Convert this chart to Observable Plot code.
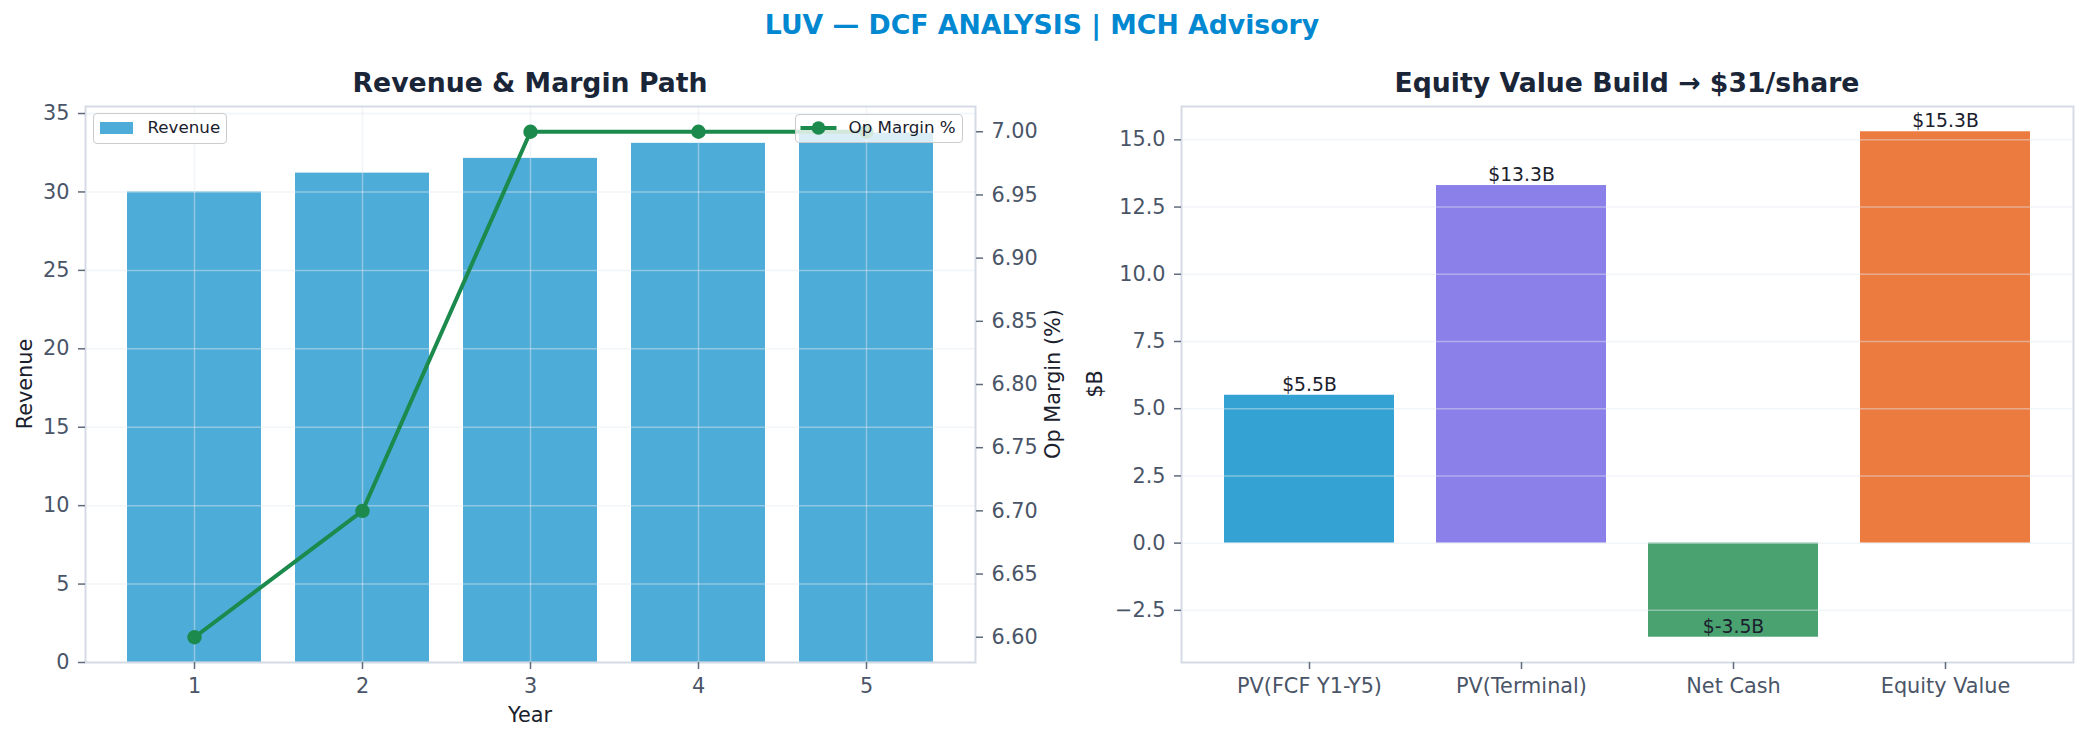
<!DOCTYPE html>
<html>
<head>
<meta charset="utf-8">
<script src="https://cdn.jsdelivr.net/npm/d3@7"></script>
<script src="https://cdn.jsdelivr.net/npm/@observablehq/plot@0.6"></script>
<style>
  html, body { margin: 0; padding: 0; background: #ffffff; }
  #fig { position: relative; width: 2084px; height: 742px; overflow: hidden; background: #ffffff; font-family: "DejaVu Sans", sans-serif; }
  #fig svg { position: absolute; left: 0; top: 0; max-width: none; }
  .txt { position: absolute; white-space: nowrap; line-height: 1; }
  .legend { position: absolute; box-sizing: border-box; background: rgba(255,255,255,0.8); border: 1.5px solid #cccccc; border-radius: 4px; }
</style>
</head>
<body>
<div id="fig"></div>
<script>
// ---------------- data ----------------
const years = [1, 2, 3, 4, 5];
const revenue = [30.0, 31.2, 32.14, 33.10, 33.76];
const opMargin = [6.6, 6.7, 7.0, 7.0, 7.0];
const revenueTicks = [0, 5, 10, 15, 20, 25, 30, 35];
const marginTicks = [6.60, 6.65, 6.70, 6.75, 6.80, 6.85, 6.90, 6.95, 7.00];

const components = ["PV(FCF Y1-Y5)", "PV(Terminal)", "Net Cash", "Equity Value"];
const componentValues = [5.5, 13.3, -3.5, 15.3];
const componentColors = ["#34a3d3", "#8b7fea", "#4aa271", "#ec7b40"];
const valueTicks = [-2.5, 0, 2.5, 5, 7.5, 10, 12.5, 15];

const titleMain = "LUV — DCF ANALYSIS | MCH Advisory";
const titleLeft = "Revenue & Margin Path";
const titleRight = "Equity Value Build → $31/share";

// ---------------- layout ----------------
const W = 2084, H = 742;
const TOP = 106, BOTTOM = 662;
const L1 = 85, R1 = 975, L2 = 1181, R2 = 2073;
const TICK_FONT = 20.8, LABEL_FONT = 20.8, TITLE_FONT = 26.7;
const GRID = {stroke: "#e2e8f0", strokeOpacity: 0.45, strokeWidth: 1.5};
const AXIS = {tickSize: 7, tickPadding: 9, stroke: "#5f6b7a", strokeWidth: 1.5, fill: "#4a5568", label: null};
const FRAME = {stroke: "#d5dbe5", strokeWidth: 2};
const baseStyle = {fontFamily: "DejaVu Sans", fontSize: TICK_FONT + "px", color: "#4a5568", background: "transparent", overflow: "visible"};

const fig = document.getElementById("fig");

const revRows = years.map((y, i) => ({year: y, revenue: revenue[i], margin: opMargin[i]}));
const xYears = {type: "band", domain: years, paddingInner: 0.2, paddingOuter: 0.24, align: 0.5};

// Left panel: bars (revenue, left axis)
const revMax = d3.max(revenue);
const p1 = Plot.plot({
  width: W, height: H,
  marginLeft: L1, marginRight: W - R1, marginTop: TOP, marginBottom: H - BOTTOM,
  style: baseStyle,
  x: xYears,
  y: {domain: [0, revMax * 1.05]},
  marks: [
    Plot.barY(revRows, {x: "year", y: "revenue", fill: "#4eacd8"}),
    Plot.gridX(years, GRID),
    Plot.gridY(revenueTicks, GRID),
    Plot.frame(FRAME),
    Plot.axisY(revenueTicks, {anchor: "left", ...AXIS}),
    Plot.axisX(years, {anchor: "bottom", ...AXIS})
  ]
});
fig.appendChild(p1);

// Left panel overlay: op margin line (right axis)
const mMin = d3.min(opMargin), mMax = d3.max(opMargin), mR = mMax - mMin;
const p2 = Plot.plot({
  width: W, height: H,
  marginLeft: L1, marginRight: W - R1, marginTop: TOP, marginBottom: H - BOTTOM,
  style: baseStyle,
  x: {...xYears, axis: null},
  y: {domain: [mMin - 0.05 * mR, mMax + 0.05 * mR]},
  marks: [
    Plot.line(revRows, {x: "year", y: "margin", stroke: "#1b8a4c", strokeWidth: 4}),
    Plot.dot(revRows, {x: "year", y: "margin", r: 7.2, fill: "#1b8a4c", stroke: "none"}),
    Plot.axisY(marginTicks, {anchor: "right", tickFormat: d3.format(".2f"), ...AXIS})
  ]
});
fig.appendChild(p2);

// Right panel: equity value build
const eqRows = components.map((c, i) => ({component: c, value: componentValues[i], color: componentColors[i]}));
const vMin = Math.min(0, d3.min(componentValues)), vMax = Math.max(0, d3.max(componentValues)), vR = vMax - vMin;
const fmt1 = d => (d < 0 ? "\u2212" : "") + Math.abs(d).toFixed(1);
const p3 = Plot.plot({
  width: W, height: H,
  marginLeft: L2, marginRight: W - R2, marginTop: TOP, marginBottom: H - BOTTOM,
  style: baseStyle,
  x: {type: "band", domain: components, paddingInner: 0.2, paddingOuter: 0.195, align: 0.5},
  y: {domain: [vMin - 0.05 * vR, vMax + 0.05 * vR]},
  color: {type: "identity"},
  marks: [
    Plot.barY(eqRows, {x: "component", y: "value", fill: "color"}),
    Plot.gridY(valueTicks, GRID),
    Plot.frame(FRAME),
    Plot.text(eqRows, {x: "component", y: "value", text: d => `$${d.value.toFixed(1)}B`, lineAnchor: "bottom", dy: -4.5, fontSize: 18.75, fill: "#1a202c"}),
    Plot.axisY(valueTicks, {anchor: "left", tickFormat: fmt1, ...AXIS}),
    Plot.axisX(components, {anchor: "bottom", ...AXIS})
  ]
});
fig.appendChild(p3);

// ---------------- text helpers ----------------
function hText(str, cx, baseline, size, weight, color) {
  const d = document.createElement("div");
  d.className = "txt";
  d.textContent = str;
  d.style.fontSize = size + "px";
  d.style.fontWeight = weight;
  d.style.color = color;
  d.style.left = cx + "px";
  d.style.top = (baseline - 0.846 * size) + "px";
  d.style.transform = "translateX(-50%)";
  fig.appendChild(d);
}
function vText(str, baselineX, cy, size, color) {
  const d = document.createElement("div");
  d.className = "txt";
  d.textContent = str;
  d.style.fontSize = size + "px";
  d.style.color = color;
  d.style.left = (baselineX - 0.346 * size) + "px";
  d.style.top = cy + "px";
  d.style.transform = "translate(-50%,-50%) rotate(-90deg)";
  fig.appendChild(d);
}

hText(titleMain, 1042, 35, TITLE_FONT, "bold", "#0288d1");
hText(titleLeft, (L1 + R1) / 2, 93, TITLE_FONT, "bold", "#1a2638");
hText(titleRight, (L2 + R2) / 2, 93, TITLE_FONT, "bold", "#1a2638");
hText("Year", (L1 + R1) / 2, 723, LABEL_FONT, "normal", "#1a202c");
vText("Revenue", 32, 384, LABEL_FONT, "#1a202c");
vText("Op Margin (%)", 1060, 384, LABEL_FONT, "#1a202c");
vText("$B", 1102, 384, LABEL_FONT, "#1a202c");

// ---------------- legends ----------------
const LEG_FONT = 16.7;
function legend(left, top, width, height) {
  const d = document.createElement("div");
  d.className = "legend";
  d.style.left = left + "px"; d.style.top = top + "px";
  d.style.width = width + "px"; d.style.height = height + "px";
  fig.appendChild(d);
  return d;
}
function legText(parent, str, x, baseline) {
  const t = document.createElement("div");
  t.className = "txt";
  t.textContent = str;
  t.style.fontSize = LEG_FONT + "px";
  t.style.color = "#1a202c";
  t.style.left = x + "px";
  t.style.top = (baseline - 0.846 * LEG_FONT) + "px";
  parent.appendChild(t);
}
// Revenue legend
const lg1 = legend(93, 113, 134, 31);
const sw = document.createElement("div");
sw.style.cssText = "position:absolute;left:5.5px;top:7.5px;width:33px;height:12px;background:#4eacd8;";
lg1.appendChild(sw);
legText(lg1, "Revenue", 53.5, 19.5);
// Op margin legend
const lg2 = legend(795, 114, 168, 29);
const ns = "http://www.w3.org/2000/svg";
const ls = document.createElementNS(ns, "svg");
ls.setAttribute("width", "50"); ls.setAttribute("height", "27");
ls.style.cssText = "position:absolute;left:0;top:0;overflow:visible;";
const ln = document.createElementNS(ns, "line");
ln.setAttribute("x1", "4.5"); ln.setAttribute("x2", "40.5"); ln.setAttribute("y1", "13"); ln.setAttribute("y2", "13");
ln.setAttribute("stroke", "#1b8a4c"); ln.setAttribute("stroke-width", "4");
const cc = document.createElementNS(ns, "circle");
cc.setAttribute("cx", "22.5"); cc.setAttribute("cy", "13"); cc.setAttribute("r", "6.8"); cc.setAttribute("fill", "#1b8a4c");
ls.appendChild(ln); ls.appendChild(cc);
lg2.appendChild(ls);
legText(lg2, "Op Margin %", 52.5, 18);
</script>
</body>
</html>
